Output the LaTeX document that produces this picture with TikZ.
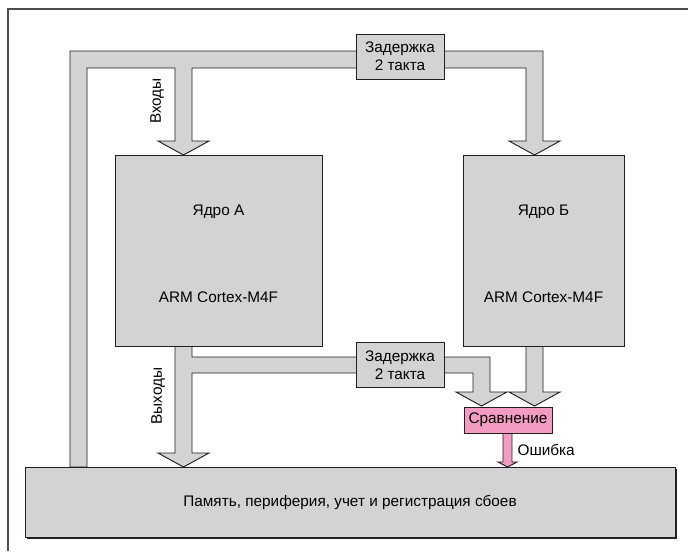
\documentclass[tikz,border=0pt]{standalone}
\usepackage{fontspec}
\setmainfont{Liberation Sans}
\usepackage{tikz}
\usetikzlibrary{positioning,calc}
\definecolor{busgray}{HTML}{D1D3D4}
\definecolor{cmppink}{HTML}{F39BC3}
\definecolor{ink}{HTML}{231F20}
\definecolor{framec}{HTML}{4D4D4F}
\tikzset{
  blk/.style={rectangle, draw=ink, fill=busgray, line width=0.7pt, inner sep=0pt,
              align=center, font=\fontsize{11.5}{13.5}\selectfont},
  delaybox/.style={blk, minimum width=66pt, minimum height=33.75pt},
  corebox/.style={blk, minimum height=143.25pt},
  cmpbox/.style={blk, fill=cmppink, minimum width=66pt, minimum height=19.5pt},
  membox/.style={blk, minimum width=487.5pt, minimum height=52.5pt},
  bus/.style={draw=ink, fill=busgray, line width=0.7pt, line join=miter},
  errbus/.style={bus, fill=cmppink},
  txt/.style={font=\fontsize{11.5}{13.5}\selectfont, inner sep=1pt},
  frameln/.style={draw=framec, line width=1.5pt},
}

\begin{document}
\begin{tikzpicture}[x=0.75pt, y=-0.75pt]
  \useasboundingbox (0,0) rectangle (688,551);
  % outer frame
  \draw[frameln] (8,551) -- (8,9) -- (688,9);
  % input bus (loop from memory to both cores)
  \draw[bus] (70,467) -- (70,51) -- (543,51) -- (543,141) -- (560,141) -- (534.5,155)
     -- (509,141) -- (526,141) -- (526,68) -- (192,68) -- (192,141) -- (209,141)
     -- (183.5,155) -- (158,141) -- (175,141) -- (175,68) -- (87,68) -- (87,467) -- cycle;
  % outputs of core A
  \draw[bus] (175,346) -- (175,453) -- (158,453) -- (183.5,467) -- (209,453) -- (192,453)
     -- (192,373) -- (473,373) -- (473,392) -- (456,392) -- (481.5,406) -- (507,392)
     -- (490,392) -- (490,357) -- (192,357) -- (192,346) -- cycle;
  % outputs of core B
  \draw[bus] (526,346) -- (526,392) -- (509,392) -- (534.5,406) -- (560,392) -- (543,392)
     -- (543,346) -- cycle;
  % error line
  \draw[errbus] (503,433) -- (503,462) -- (498,462) -- (507.5,467) -- (517,462)
     -- (512,462) -- (512,433) -- cycle;

  \node[delaybox] (dly1) at (400,56.5) {Задержка\\2 такта};
  \node[delaybox] (dly2) at (400,365) {Задержка\\2 такта};
  \node[corebox, minimum width=155.25pt] (coreA) at (218.5,250.5) {};
  \node[corebox, minimum width=120.75pt] (coreB) at (543.5,250.5) {};
  \node[txt] (coreAname) at (218.5,212) {Ядро А};
  \node[txt] (coreAarm) at (218.5,297) {ARM Cortex-M4F};
  \node[txt] (coreBname) at (543.5,212) {Ядро Б};
  \node[txt] (coreBarm) at (543.5,297) {ARM Cortex-M4F};
  \node[cmpbox] (cmp) at (508,420) {Сравнение};
  \fill[ink] (27,469) rectangle (677,539);
  \node[membox] (mem) at (350,502) {Память, периферия, учет и регистрация сбоев};

  \node[txt, rotate=90] (inlbl) at (157,101) {Входы};
  \node[txt, rotate=90] (outlbl) at (158,396) {Выходы};
  \node[txt, anchor=west] (errlbl) at (516,450) {Ошибка};
\end{tikzpicture}
\end{document}
